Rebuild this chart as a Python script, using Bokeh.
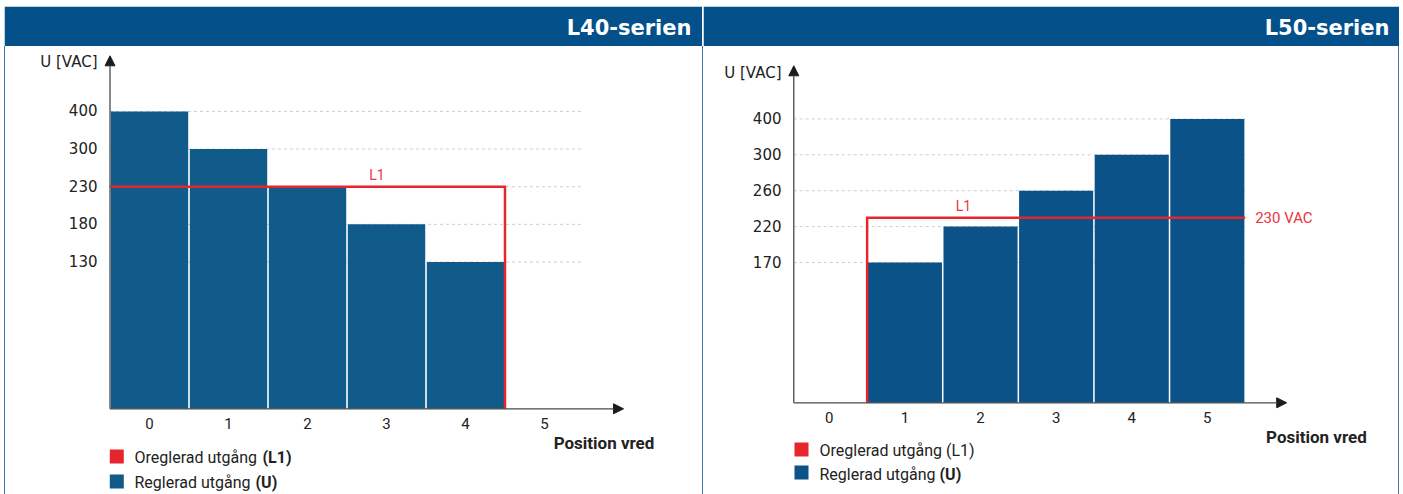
import numpy as np
from bokeh.plotting import figure
from bokeh.models import Range1d, FixedTicker, LinearAxis, Arrow, NormalHead, Div, Spacer
from bokeh.layouts import row, column
from bokeh.core.properties import value
from bokeh.embed import file_html
from bokeh.resources import INLINE

# ---------------- data ----------------
titles = ["L40-serien", "L50-serien"]
y_label = "U [VAC]"
x_label = "Position vred"
x_ticks = [0, 1, 2, 3, 4, 5]

L40_positions = [0, 1, 2, 3, 4]
L40_voltage = [400, 300, 230, 180, 130]
L40_yticks = [130, 180, 230, 300, 400]

L50_positions = [1, 2, 3, 4, 5]
L50_voltage = [170, 220, 260, 300, 400]
L50_yticks = [170, 220, 260, 300, 400]

L1_voltage = 230
L1_label = "L1"
L1_value_label = "230 VAC"

legend_L1_text = "Oreglerad utgång "
legend_L1_tag = "(L1)"
legend_U_text = "Reglerad utgång "
legend_U_tag = "(U)"

# ---------------- style ----------------
HEADER = "#03508a"
BORDER = "#3f79ae"
RED = "#e5262d"
RED_TXT = "#e8363c"
BAR_L = "#115b8b"
BAR_R = "#0a5287"
AXIS = "#4a4a4a"
HEAD = "#1c1c1c"
GRID = "#cfcfcf"
TXT = "#222222"


def base_fig(**kw):
    return figure(toolbar_location=None, output_backend="svg", x_axis_type=None,
                  y_axis_type=None, outline_line_color=None, frame_align=False, **kw)


def header(width, height, title, pad_right):
    h = base_fig(width=width, height=height, x_range=Range1d(0, width),
                 y_range=Range1d(0, height), min_border=0)
    h.quad(left=0, right=width, bottom=0, top=height, fill_color=HEADER, line_color=None)
    h.text(x=width - pad_right, y=height / 2 - 1, text=[title], text_align="right",
           text_baseline="middle", text_color="white", text_font=value("DejaVu Sans"),
           text_font_style="bold", text_font_size="21px")
    return h


def chart(width, height, ml, mb, mt, mr, baseline_fy, axis_x, axis_off, pitch, base, step,
          yticks, positions, voltages, label_lvl, tip_lvl, arrow_x, bar_color, l1_x, l1_y,
          l1_label_x, grid_end, show_vac):
    fw = width - ml - mr
    x_start = axis_x - axis_off / pitch
    y_start = -(height - mb - baseline_fy)
    y_end = baseline_fy - mt
    p = base_fig(width=width, height=height, x_range=Range1d(x_start, x_start + fw / pitch),
                 y_range=Range1d(y_start, y_end), min_border_left=ml, min_border_right=mr,
                 min_border_top=mt, min_border_bottom=mb)
    levels = [round(base + step * i, 2) for i in range(len(yticks))]

    def disp(v):
        return np.interp(v, [0] + list(yticks), [0.0] + levels)

    # dashed guide lines
    p.segment(x0=axis_x, y0=levels, x1=grid_end, y1=levels, line_color=GRID,
              line_dash="3 3", line_width=1)
    # bars
    p.vbar(x=positions, top=disp(voltages), bottom=0, width=0.98, fill_color=bar_color,
           line_color=None)
    # unregulated L1 line
    l1 = float(disp(L1_voltage))
    ys = [l1 if v is None else v for v in l1_y]
    p.line(x=l1_x, y=ys, line_color=RED, line_width=2.5, line_join="miter")
    p.text(x=[l1_label_x], y=[l1], text=[L1_label], text_align="center", text_baseline="middle",
           y_offset=-12, text_color=RED_TXT, text_font=value("Roboto"), text_font_size="14px")
    if show_vac:
        p.text(x=[l1_x[-1]], y=[l1], text=[L1_value_label], text_align="left",
               text_baseline="middle", x_offset=10, text_color=RED_TXT,
               text_font=value("Roboto"), text_font_size="15px")

    # axes (labels only; the visible axis lines are the arrows below)
    ticks = levels + [label_lvl]
    overrides = {lv: str(t) for lv, t in zip(levels, yticks)}
    overrides[label_lvl] = y_label
    ya = LinearAxis(ticker=FixedTicker(ticks=ticks), major_label_overrides=overrides,
                    axis_line_color=None, major_tick_line_color=None,
                    minor_tick_line_color=None, major_label_standoff=0,
                    major_label_text_font="DejaVu Sans", major_label_text_font_size="15px",
                    major_label_text_color=TXT)
    p.add_layout(ya, "left")
    xa = LinearAxis(ticker=FixedTicker(ticks=x_ticks), axis_line_color=None,
                    major_tick_line_color=None, minor_tick_line_color=None,
                    major_label_standoff=-3, major_label_text_font="Roboto",
                    major_label_text_font_size="15px", major_label_text_color=TXT)
    p.add_layout(xa, "below")
    # axis lines with arrow heads
    p.add_layout(Arrow(end=NormalHead(size=10, fill_color=HEAD, line_color=HEAD, line_width=1),
                       x_start=axis_x, y_start=0, x_end=axis_x, y_end=tip_lvl,
                       line_color=AXIS, line_width=1.3))
    p.add_layout(Arrow(end=NormalHead(size=10, fill_color=HEAD, line_color=HEAD, line_width=1),
                       x_start=axis_x, y_start=0, x_end=arrow_x, y_end=0,
                       line_color=AXIS, line_width=1.3))
    return p


def legend(width, height, pos_x, pos_y, sq_x, rows, text_x):
    g = base_fig(width=width, height=height, x_range=Range1d(0, width),
                 y_range=Range1d(height, 0), min_border=0)
    g.text(x=[pos_x], y=[pos_y], text=[x_label], text_align="center", text_baseline="middle",
           text_color=TXT, text_font=value("Roboto"), text_font_style="bold",
           text_font_size="17px")
    for (sq_y, txt_y, color, txt, tag, tag_x, tag_bold) in rows:
        g.rect(x=[sq_x], y=[sq_y], width=14, height=14, fill_color=color, line_color=None)
        g.text(x=[text_x], y=[txt_y], text=[txt], text_align="left", text_baseline="middle",
               text_color=TXT, text_font=value("Roboto"), text_font_size="16px")
        if tag:
            g.text(x=[tag_x], y=[txt_y], text=[tag], text_align="left", text_baseline="middle",
                   text_color=TXT, text_font=value("Roboto"),
                   text_font_style="bold" if tag_bold else "normal", text_font_size="16px")
    return g


# ---------------- left panel (L40) ----------------
hL = header(698, 40, titles[0], 11)
cL = chart(697, 388, 98, 20, 6, 63, 362.3, -0.5, 6.5, 79.0, 146.8, 37.65, L40_yticks,
           L40_positions, L40_voltage, 347, 353, 6.0, BAR_L,
           [-0.5, L40_positions[-1] + 0.5, L40_positions[-1] + 0.5], [None, None, 0],
           2.88, 5.5, False)
gL = legend(697, 60, 598.5, 8, 111.3,
            [(22, 23, RED, legend_L1_text, legend_L1_tag, 257, True),
             (47, 48, BAR_L, legend_U_text, legend_U_tag, 250, True)], 129)

# ---------------- right panel (L50) ----------------
hR = header(696, 40, titles[1], 10)
cR = chart(695, 382, 84, 20, 6, 67, 356.3, -0.47, 6.3, 75.6, 140.3, 35.9, L50_yticks,
           L50_positions, L50_voltage, 330, 337, 6.05, BAR_R,
           [L50_positions[0] - 0.5, L50_positions[0] - 0.5, L50_positions[-1] + 0.5],
           [0, None, None], 1.775, 5.5, True)
gR = legend(695, 66, 612.9, 8, 98,
            [(21, 22, RED, legend_L1_text + legend_L1_tag, "", 0, False),
             (44, 46, BAR_R, legend_U_text, legend_U_tag, 236, True)], 116)


def border_line(h):
    return Div(text="", width=1, height=h, margin=0, styles={"background-color": BORDER})


top_pad = Spacer(width=10, height=6, margin=0)
header_row = row(Spacer(width=4, height=40, margin=0), hL, Spacer(width=1, height=40, margin=0), hR)
body_row = row(Spacer(width=4, height=448, margin=0), border_line(448), column(cL, gL),
               border_line(448), column(cR, gR), border_line(448))
root = column(top_pad, header_row, body_row)

open("out.html", "w").write(file_html(root, INLINE))
